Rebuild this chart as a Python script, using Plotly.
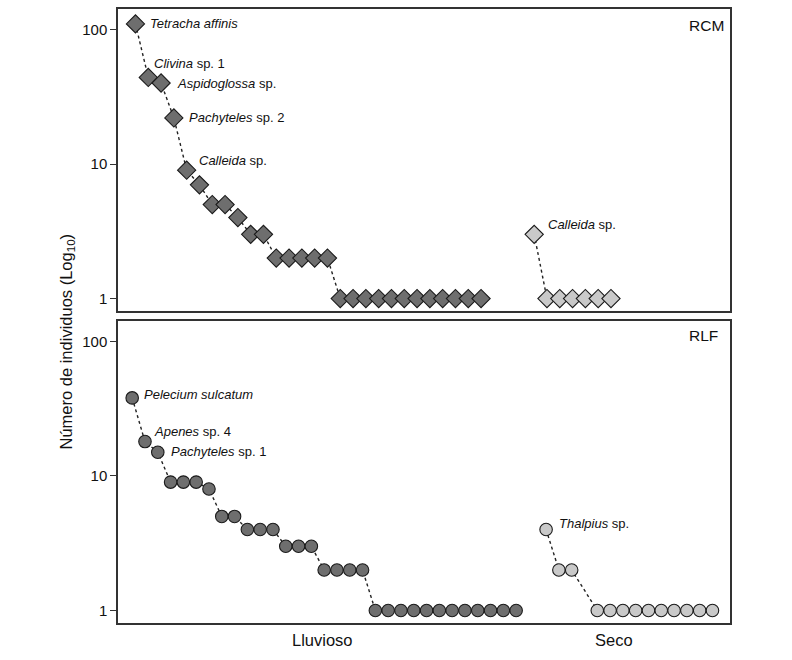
import math
import plotly.graph_objects as go

# ---------------- data ----------------
# RCM panel (rank-abundance, diamonds)
rcm_lluvioso = [110, 44, 40, 22, 9, 7, 5, 5, 4, 3, 3, 2, 2, 2, 2, 2,
                1, 1, 1, 1, 1, 1, 1, 1, 1, 1, 1, 1]
rcm_seco = [3, 1, 1, 1, 1, 1, 1]
# RLF panel (rank-abundance, circles)
rlf_lluvioso = [38, 18, 15, 9, 9, 9, 8, 5, 5, 4, 4, 4, 3, 3, 3, 2, 2, 2, 2,
                1, 1, 1, 1, 1, 1, 1, 1, 1, 1, 1, 1]
rlf_seco = [4, 2, 2, 1, 1, 1, 1, 1, 1, 1, 1, 1, 1]

# labelled species: (index in series, genus (italic), suffix)
rcm_ll_labels = [(0, "Tetracha affinis", ""), (1, "Clivina", " sp. 1"),
                 (2, "Aspidoglossa", " sp."), (3, "Pachyteles", " sp. 2"),
                 (4, "Calleida", " sp.")]
rcm_se_labels = [(0, "Calleida", " sp.")]
rlf_ll_labels = [(0, "Pelecium sulcatum", ""), (1, "Apenes", " sp. 4"),
                 (2, "Pachyteles", " sp. 1")]
rlf_se_labels = [(0, "Thalpius", " sp.")]

season_labels = ["Lluvioso", "Seco"]
panel_labels = ["RCM", "RLF"]
y_tickvals = [1, 10, 100]
y_ticktext = ["1", "10", "100"]

# ---------------- layout params ----------------
SECO_START_RCM = 32.15
SECO_START_RLF = 33.34
RLF_SECO_GAP_AFTER = 3  # a skipped rank position after the third point

DARK = "#6e6e6e"
LIGHT = "#c9c9c9"
EDGE = "#1a1a1a"
FONT = "Liberation Sans, Arial, Helvetica, sans-serif"

x_rcm_ll = [1 + i for i in range(len(rcm_lluvioso))]
x_rcm_se = [SECO_START_RCM + i for i in range(len(rcm_seco))]
x_rlf_ll = [1 + i for i in range(len(rlf_lluvioso))]
x_rlf_se = [SECO_START_RLF + i + (1 if i >= RLF_SECO_GAP_AFTER else 0)
            for i in range(len(rlf_seco))]

fig = go.Figure()


def add_series(x, y, symbol, color, size, xa, ya):
    fig.add_trace(go.Scatter(
        x=x, y=y, mode="lines+markers", xaxis=xa, yaxis=ya,
        line=dict(color="#222222", width=1.4, dash="3px,3px"),
        marker=dict(symbol=symbol, size=size, color=color,
                    line=dict(color=EDGE, width=1.1)),
        showlegend=False, hoverinfo="skip"))


add_series(x_rcm_ll, rcm_lluvioso, "diamond", DARK, 14, "x", "y")
add_series(x_rcm_se, rcm_seco, "diamond", LIGHT, 14, "x", "y")
add_series(x_rlf_ll, rlf_lluvioso, "circle", DARK, 12.5, "x2", "y2")
add_series(x_rlf_se, rlf_seco, "circle", LIGHT, 12.5, "x2", "y2")

annotations = []


def add_labels(labels, xs, ys, xref, yref, offsets):
    for (idx, genus, suffix), (dx, dy) in zip(labels, offsets):
        annotations.append(dict(
            x=xs[idx], y=math.log10(ys[idx]), xref=xref, yref=yref,
            text="<i>%s</i>%s" % (genus, suffix), showarrow=False,
            xanchor="left", yanchor="middle", xshift=dx, yshift=dy,
            font=dict(family=FONT, size=13, color="#111111")))


add_labels(rcm_ll_labels, x_rcm_ll, rcm_lluvioso, "x", "y",
           [(13, 0), (4, 14), (14, 0), (13, 0), (10, 10)])
add_labels(rcm_se_labels, x_rcm_se, rcm_seco, "x", "y", [(12, 10)])
add_labels(rlf_ll_labels, x_rlf_ll, rlf_lluvioso, "x2", "y2",
           [(10, 3), (7, 10), (11, 1)])
add_labels(rlf_se_labels, x_rlf_se, rlf_seco, "x2", "y2", [(11, 6)])

# panel labels
for lab, yp in zip(panel_labels, [0.9735, 0.4675]):
    annotations.append(dict(x=0.929, y=yp, xref="paper", yref="paper",
                            text=lab, showarrow=False, xanchor="left",
                            yanchor="middle",
                            font=dict(family=FONT, size=15.5, color="#111111")))

# season labels
for lab, xp in zip(season_labels, [(322 - 117.5) / 613, (614.5 - 117.5) / 613]):
    annotations.append(dict(x=xp, y=(623 - 640) / 616, xref="paper", yref="paper",
                            text=lab, showarrow=False, xanchor="center",
                            yanchor="middle",
                            font=dict(family=FONT, size=16.5, color="#111111")))

# y title
annotations.append(dict(x=(66 - 117.5) / 613, y=(623 - 341) / 616,
                        xref="paper", yref="paper",
                        text="Número de individuos (Log<sub>10</sub>)",
                        showarrow=False, textangle=-90, xanchor="center",
                        yanchor="middle",
                        font=dict(family=FONT, size=16.5, color="#111111")))

frame = dict(showline=True, linecolor="#333333", linewidth=1.5, mirror=True,
             showgrid=False, zeroline=False)
yax = dict(type="log", range=[-0.093, 2.152], tickvals=y_tickvals,
           ticktext=y_ticktext, ticks="outside", ticklen=6, tickwidth=1.3,
           tickcolor="#333333",
           tickfont=dict(family=FONT, size=15, color="#111111"), **frame)
xax = dict(showticklabels=False, ticks="", **frame)

fig.update_layout(
    width=792, height=660,
    margin=dict(l=117.5, r=61.5, t=7, b=37),
    paper_bgcolor="white", plot_bgcolor="white",
    xaxis=dict(domain=[0, 1], range=[-0.365, 47.45], anchor="y", **xax),
    yaxis=dict(domain=[0.508, 1.0], anchor="x", **yax),
    xaxis2=dict(domain=[0, 1], range=[-0.108, 47.71], anchor="y2", **xax),
    yaxis2=dict(domain=[0.0, 0.492], anchor="x2", **yax),
    annotations=annotations,
    font=dict(family=FONT),
)

fig.write_html("out.html",
               config={"displayModeBar": False},
               post_script="document.body.style.margin='0px';"
                           "document.body.style.overflow='hidden';")
